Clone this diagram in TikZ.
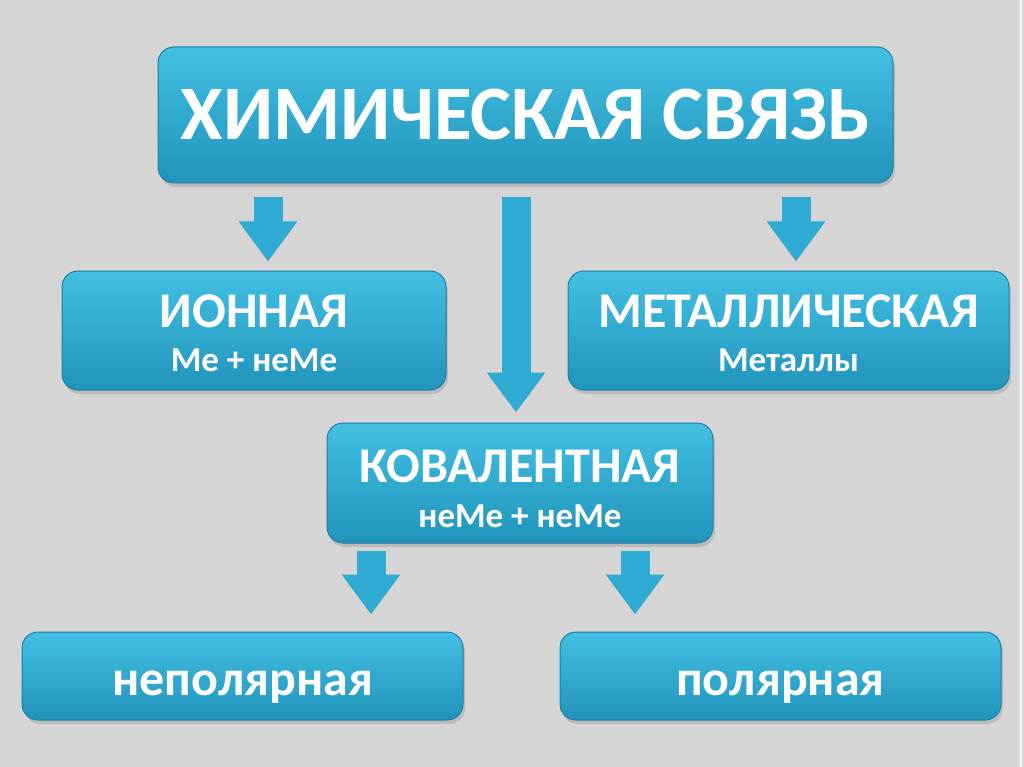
\documentclass[tikz,border=0pt]{standalone}
\usepackage{fontspec}
\setmainfont{Carlito}
\usetikzlibrary{arrows.meta,shadows}
\definecolor{bggray}{HTML}{D5D5D5}
\definecolor{cyantop}{HTML}{42BFE2}
\definecolor{cyanbot}{HTML}{2194BC}
\definecolor{cyanedge}{HTML}{1C7FA4}
\definecolor{arrcyan}{HTML}{2FAAD2}
\tikzset{cbox/.style={draw=cyanedge,line width=1pt,rounded corners=16pt,
    top color=cyantop,bottom color=cyanbot,inner sep=0pt,align=center,
    text=white,font=\bfseries\fontsize{50}{44}\selectfont,
    drop shadow={shadow xshift=2pt,shadow yshift=-4pt,opacity=0.3}},
  barrow/.style={draw=arrcyan,line width=29pt,-{Triangle[length=40pt,width=56pt]}}}

\begin{document}
\begin{tikzpicture}[x=1pt,y=-1pt]
\fill[bggray] (0,0) rectangle (1024,767);
\fill[white!80!bggray] (1020,0) rectangle (1022,767);
% boxes
\node[cbox,minimum width=735pt,minimum height=136pt,
  font=\bfseries\fontsize{77}{77}\selectfont] (chem) at (525.5,115) {ХИМИЧЕСКАЯ СВЯЗЬ};
\node[cbox,minimum width=384pt,minimum height=119pt] (ion) at (254,330.5)
  {\rule{0pt}{39pt}ИОННАЯ\\ \fontsize{35}{44}\selectfont Ме + неМе};
\node[cbox,minimum width=441pt,minimum height=119pt] (metal) at (788.5,330.5)
  {\rule{0pt}{39pt}МЕТАЛЛИЧЕСКАЯ\\ \fontsize{35}{44}\selectfont Металлы};
\node[cbox,minimum width=386pt,minimum height=120pt,
  font=\bfseries\fontsize{50}{45}\selectfont] (coval) at (520,483)
  {\rule{0pt}{44pt}КОВАЛЕНТНАЯ\\ \fontsize{35}{45}\selectfont неМе + неМе};
\node[cbox,minimum width=441pt,minimum height=88pt,text height=38pt,text depth=0pt]
  (nonpol) at (242.5,676) {неполярная};
\node[cbox,minimum width=441pt,minimum height=88pt,text height=38pt,text depth=0pt]
  (pol) at (780.5,676) {полярная};
% arrow columns
\coordinate (xl) at (268,0);
\coordinate (xm) at (516,0);
\coordinate (xr) at (796,0);
\coordinate (xbl) at (371,0);
\coordinate (xbr) at (635,0);
\draw[barrow,shorten <=14pt,shorten >=9pt] (xl |- chem.south) -- (xl |- ion.north);
\draw[barrow,shorten <=14pt,shorten >=10pt] (xm |- chem.south) -- (xm |- coval.north);
\draw[barrow,shorten <=14pt,shorten >=9pt] (xr |- chem.south) -- (xr |- metal.north);
\draw[barrow,shorten <=7pt,shorten >=17pt] (xbl |- coval.south) -- (xbl |- nonpol.north);
\draw[barrow,shorten <=7pt,shorten >=17pt] (xbr |- coval.south) -- (xbr |- pol.north);
\end{tikzpicture}
\end{document}
